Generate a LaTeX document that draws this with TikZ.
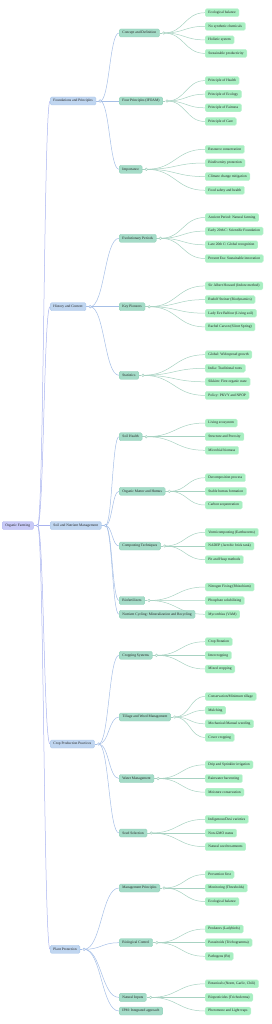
\documentclass[tikz,border=0pt]{standalone}
\usepackage{fontspec}
\setmainfont{Liberation Serif}
\usetikzlibrary{calc,backgrounds}
\definecolor{c0fill}{HTML}{C7C9F7}
\definecolor{c0draw}{HTML}{B0B6F0}
\definecolor{c1fill}{HTML}{C0D6F0}
\definecolor{c1draw}{HTML}{A9C5EA}
\definecolor{c2fill}{HTML}{A5DCC8}
\definecolor{c2draw}{HTML}{92D1BA}
\definecolor{c3fill}{HTML}{A8EFC2}
\definecolor{c3draw}{HTML}{C2F5D5}
\definecolor{e0c}{HTML}{A9B3EF}
\definecolor{e1c}{HTML}{A6BFE6}
\definecolor{e2c}{HTML}{A8D2C2}
\definecolor{txt}{HTML}{222222}
\tikzset{
  nbase/.style={anchor=west, rounded corners=1.4pt, inner xsep=3.3pt, inner ysep=0pt,
    minimum height=8pt, text=txt, font=\fontsize{3.6}{4.3}\selectfont, line width=0.35pt},
  n0/.style={nbase, fill=c0fill, draw=c0draw},
  n1/.style={nbase, fill=c1fill, draw=c1draw},
  n2/.style={nbase, fill=c2fill, draw=c2draw},
  n3/.style={nbase, fill=c3fill, draw=c3draw},
  dot0/.style={circle, inner sep=0pt, minimum size=2.6pt, fill=white, draw=e0c, line width=0.5pt},
  dot1/.style={circle, inner sep=0pt, minimum size=2.6pt, fill=white, draw=e1c, line width=0.5pt},
  dot2/.style={circle, inner sep=0pt, minimum size=2.6pt, fill=white, draw=e2c, line width=0.5pt},
  e0/.style={draw=e0c, line width=0.5pt},
  e1/.style={draw=e1c, line width=0.5pt},
  e2/.style={draw=e2c, line width=0.5pt},
}
\newcommand\mmlink[3]{\begin{scope}[on background layer]\draw[#3] let \p1=(#1), \p2=(#2.west) in (\p1) .. controls ({0.5*\x1+0.5*\x2},\y1) and ({0.5*\x1+0.5*\x2},\y2) .. (\p2);\end{scope}}
\newcommand\mmdot[2]{\node[dot#2] (#1d) at ($(#1.east)+(4,0)$) {};\begin{scope}[on background layer]\draw[e#2] (#1.east) -- (#1d);\end{scope}}
\newcommand\mmtop[3]{\node[n1] (#1) at (50,#2) {#3};\mmlink{rootd}{#1}{e0}\mmdot{#1}{1}}
\newcommand\mmmid[4]{\node[n2] (#1) at (119,#2) {#3};\mmlink{#4d}{#1}{e1}}
\newcommand\mmleaf[4]{\node[n3] (#1) at (205,#2) {#3};\mmlink{#4d}{#1}{e2}}
\begin{document}
\begin{tikzpicture}[x=1pt,y=-1pt]
\useasboundingbox (0,0) rectangle (272,1024);
\node[n0] (root) at (2,525.5) {Organic Farming};
\mmdot{root}{0}
% ---------- Foundations
\mmtop{fnd}{101}{Foundations and Principles}
\mmmid{cd}{33}{Concept and Definition}{fnd}\mmdot{cd}{2}
\mmleaf{cd1}{12.7}{Ecological balance}{cd}
\mmleaf{cd2}{26.3}{No synthetic chemicals}{cd}
\mmleaf{cd3}{39.9}{Holistic system}{cd}
\mmleaf{cd4}{53.4}{Sustainable productivity}{cd}
\mmmid{fp}{101}{Four Principles (IFOAM)}{fnd}\mmdot{fp}{2}
\mmleaf{fp1}{80.6}{Principle of Health}{fp}
\mmleaf{fp2}{94.2}{Principle of Ecology}{fp}
\mmleaf{fp3}{107.8}{Principle of Fairness}{fp}
\mmleaf{fp4}{121.5}{Principle of Care}{fp}
\mmmid{imp}{169.3}{Importance}{fnd}\mmdot{imp}{2}
\mmleaf{imp1}{149.3}{Resource conservation}{imp}
\mmleaf{imp2}{163}{Biodiversity protection}{imp}
\mmleaf{imp3}{176.6}{Climate change mitigation}{imp}
\mmleaf{imp4}{190.3}{Food safety and health}{imp}
% ---------- History
\mmtop{his}{306.7}{History and Context}
\mmmid{ev}{238.3}{Evolutionary Periods}{his}\mmdot{ev}{2}
\mmleaf{ev1}{217.5}{Ancient Period: Natural farming}{ev}
\mmleaf{ev2}{231.1}{Early 20th C: Scientific Foundation}{ev}
\mmleaf{ev3}{244.8}{Late 20th C: Global recognition}{ev}
\mmleaf{ev4}{258.5}{Present Era: Sustainable innovation}{ev}
\mmmid{kp}{306.7}{Key Pioneers}{his}\mmdot{kp}{2}
\mmleaf{kp1}{285.9}{Sir Albert Howard (Indore method)}{kp}
\mmleaf{kp2}{299.6}{Rudolf Steiner (Biodynamics)}{kp}
\mmleaf{kp3}{313.2}{Lady Eve Balfour (Living soil)}{kp}
\mmleaf{kp4}{326.9}{Rachel Carson (Silent Spring)}{kp}
\mmmid{st}{375.3}{Statistics}{his}\mmdot{st}{2}
\mmleaf{st1}{354.7}{Global: Widespread growth}{st}
\mmleaf{st2}{368.3}{India: Traditional roots}{st}
\mmleaf{st3}{381.8}{Sikkim: First organic state}{st}
\mmleaf{st4}{395.4}{Policy: PKVY and NPOP}{st}
% ---------- Soil
\mmtop{soil}{525.5}{Soil and Nutrient Management}
\mmmid{sh}{436.7}{Soil Health}{soil}\mmdot{sh}{2}
\mmleaf{sh1}{423}{Living ecosystem}{sh}
\mmleaf{sh2}{436.7}{Structure and Porosity}{sh}
\mmleaf{sh3}{450.3}{Microbial biomass}{sh}
\mmmid{om}{491.3}{Organic Matter and Humus}{soil}\mmdot{om}{2}
\mmleaf{om1}{477.7}{Decomposition process}{om}
\mmleaf{om2}{491.3}{Stable humus formation}{om}
\mmleaf{om3}{505}{Carbon sequestration}{om}
\mmmid{ct}{546}{Composting Techniques}{soil}\mmdot{ct}{2}
\mmleaf{ct1}{532.3}{Vermicomposting (Earthworms)}{ct}
\mmleaf{ct2}{546}{NADEP (Aerobic brick tank)}{ct}
\mmleaf{ct3}{559.7}{Pit and Heap methods}{ct}
\mmmid{bf}{600.5}{Biofertilizers}{soil}\mmdot{bf}{2}
\mmleaf{bf1}{587}{Nitrogen Fixing (Rhizobium)}{bf}
\mmleaf{bf2}{600.6}{Phosphate solubilizing}{bf}
\mmleaf{bf3}{614.3}{Mycorrhiza (VAM)}{bf}
\mmmid{nc}{614.3}{Nutrient Cycling: Mineralization and Recycling}{soil}
% ---------- Crop
\mmtop{crop}{744}{Crop Production Practices}
\mmmid{cs}{655.3}{Cropping Systems}{crop}\mmdot{cs}{2}
\mmleaf{cs1}{641.7}{Crop Rotation}{cs}
\mmleaf{cs2}{655.3}{Intercropping}{cs}
\mmleaf{cs3}{669}{Mixed cropping}{cs}
\mmmid{tw}{717}{Tillage and Weed Management}{crop}\mmdot{tw}{2}
\mmleaf{tw1}{696.5}{Conservation/Minimum tillage}{tw}
\mmleaf{tw2}{710.2}{Mulching}{tw}
\mmleaf{tw3}{723.8}{Mechanical/Manual weeding}{tw}
\mmleaf{tw4}{737.4}{Cover cropping}{tw}
\mmmid{wm}{778.5}{Water Management}{crop}\mmdot{wm}{2}
\mmleaf{wm1}{764.8}{Drip and Sprinkler irrigation}{wm}
\mmleaf{wm2}{778.5}{Rainwater harvesting}{wm}
\mmleaf{wm3}{792.2}{Moisture conservation}{wm}
\mmmid{ss}{833}{Seed Selection}{crop}\mmdot{ss}{2}
\mmleaf{ss1}{819.3}{Indigenous/Desi varieties}{ss}
\mmleaf{ss2}{833}{Non-GMO status}{ss}
\mmleaf{ss3}{846.7}{Natural seed treatments}{ss}
% ---------- Plant protection
\mmtop{pp}{949.3}{Plant Protection}
\mmmid{mp}{888}{Management Principles}{pp}\mmdot{mp}{2}
\mmleaf{mp1}{874.5}{Prevention first}{mp}
\mmleaf{mp2}{888}{Monitoring (Thresholds)}{mp}
\mmleaf{mp3}{901.5}{Ecological balance}{mp}
\mmmid{bc}{942.7}{Biological Control}{pp}\mmdot{bc}{2}
\mmleaf{bc1}{929}{Predators (Ladybirds)}{bc}
\mmleaf{bc2}{942.7}{Parasitoids (Trichogramma)}{bc}
\mmleaf{bc3}{956.3}{Pathogens (Bt)}{bc}
\mmmid{ni}{997.4}{Natural Inputs}{pp}\mmdot{ni}{2}
\mmleaf{ni1}{983.8}{Botanicals (Neem, Garlic, Chili)}{ni}
\mmleaf{ni2}{997.4}{Biopesticides (Trichoderma)}{ni}
\mmleaf{ni3}{1011}{Pheromone and Light traps}{ni}
\mmmid{ipm}{1011}{IPM: Integrated approach}{pp}
\end{tikzpicture}
\end{document}
